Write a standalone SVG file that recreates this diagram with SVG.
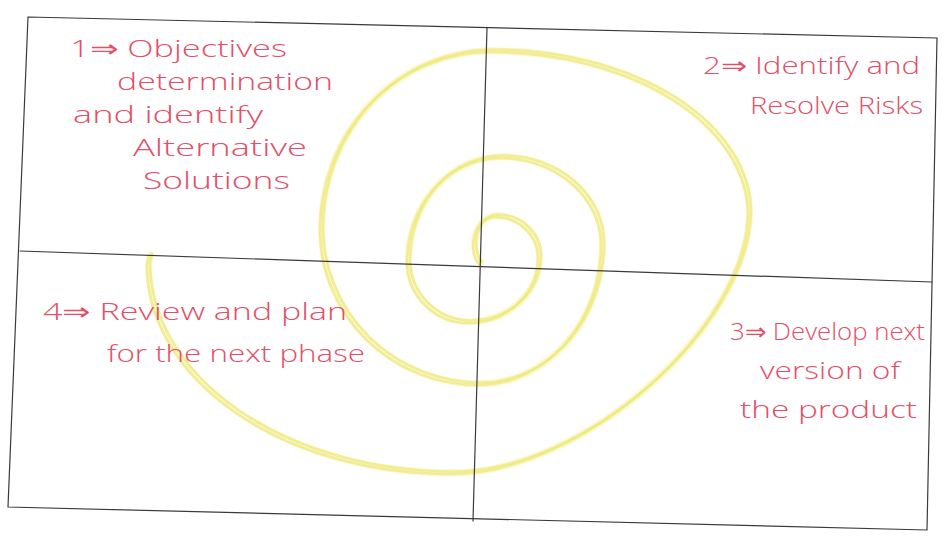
<svg xmlns="http://www.w3.org/2000/svg" width="947" height="543" viewBox="0 0 947 543">
<style>
.frame{fill:none;stroke:#3a3a3a;stroke-width:1.2;stroke-linecap:round}
.sp{fill:none;stroke:#eee878;stroke-width:2.6;stroke-linecap:round;stroke-linejoin:round;opacity:0.7}
.spf{fill:none;stroke:#f7f4b0;stroke-width:7;stroke-linecap:round;opacity:0.6}
.t{font-family:"Open Sans","Liberation Sans","DejaVu Sans",sans-serif;font-weight:300;font-size:24px;fill:#e44e68}
</style>
<defs>
<path id="spiral" d="M479 264 C468 252 472 218 495 217 A43 41 0 0 1 538 258 A70 65 0 0 1 468 323 A61 61 0 0 1 407 262 A93 104 0 0 1 500 158 A101 87 0 0 1 601 245 A123 140 0 0 1 478 385 A158 155 0 0 1 320 230 A170 178 0 0 1 490 52 A258 163 0 0 1 748 215 C745 330 580 475 450 474 A303 209 0 0 1 147 265 L149 256"/>
</defs>
<rect width="947" height="543" fill="#ffffff"/>
<g id="spiral-drawing">
<use href="#spiral" class="spf" transform="translate(1.5,-1.2)"/>
<use href="#spiral" class="sp"/>
<use href="#spiral" class="sp" transform="translate(3,-2.5)"/>
</g>
<g id="frame">
<polygon class="frame" points="28,17 937,38 927,530 8,507"/>
<line class="frame" x1="487" y1="28" x2="473" y2="521"/>
<line class="frame" x1="20" y1="251" x2="932" y2="282"/>
</g>
<g id="q1">
<text class="t" x="70" y="57" textLength="217" lengthAdjust="spacingAndGlyphs">1⇒ Objectives</text>
<text class="t" x="117" y="90" textLength="216" lengthAdjust="spacingAndGlyphs">determination</text>
<text class="t" x="73" y="123" textLength="190" lengthAdjust="spacingAndGlyphs">and identify</text>
<text class="t" x="133" y="156" textLength="174" lengthAdjust="spacingAndGlyphs">Alternative</text>
<text class="t" x="143" y="189" textLength="147" lengthAdjust="spacingAndGlyphs">Solutions</text>
</g>
<g id="q2">
<text class="t" x="703" y="74" textLength="217" lengthAdjust="spacingAndGlyphs">2⇒ Identify and</text>
<text class="t" x="750" y="114" textLength="173" lengthAdjust="spacingAndGlyphs">Resolve Risks</text>
</g>
<g id="q3">
<text class="t" x="730" y="340" textLength="195" lengthAdjust="spacingAndGlyphs">3⇒ Develop next</text>
<text class="t" x="760" y="379" textLength="140" lengthAdjust="spacingAndGlyphs">version of</text>
<text class="t" x="740" y="418" textLength="177" lengthAdjust="spacingAndGlyphs">the product</text>
</g>
<g id="q4">
<text class="t" x="43" y="320" textLength="304" lengthAdjust="spacingAndGlyphs">4⇒ Review and plan</text>
<text class="t" x="107" y="362" textLength="258" lengthAdjust="spacingAndGlyphs">for the next phase</text>
</g>
</svg>
